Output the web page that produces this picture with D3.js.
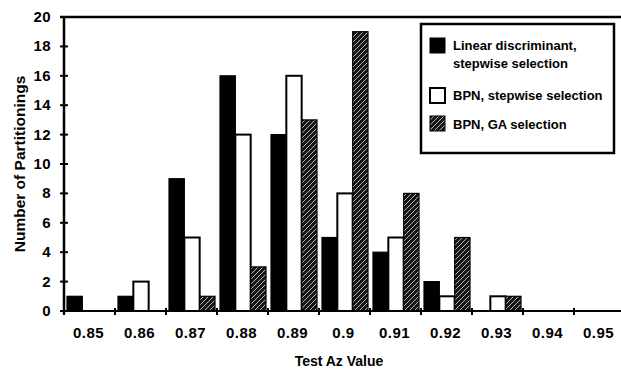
<!DOCTYPE html>
<html>
<head>
<meta charset="utf-8">
<script src="https://cdn.jsdelivr.net/npm/d3@7"></script>
<style>
  html, body { margin: 0; padding: 0; background: #fff; }
  svg { display: block; font-family: "Liberation Sans", Arial, sans-serif; font-weight: bold; }
</style>
</head>
<body>
<svg id="chart" width="621" height="372"></svg>
<script>
// Bin labels (Test Az value)
const categories = ["0.85", "0.86", "0.87", "0.88", "0.89", "0.9", "0.91", "0.92", "0.93", "0.94", "0.95"];
// Number of partitionings per bin for each method
const linearStepwise = [1, 1, 9, 16, 12, 5, 4, 2, 0, 0, 0];
const bpnStepwise    = [0, 2, 5, 12, 16, 8, 5, 1, 1, 0, 0];
const bpnGA          = [0, 0, 1, 3, 13, 19, 8, 5, 1, 0, 0];
const seriesNames = ["Linear discriminant, stepwise selection", "BPN, stepwise selection", "BPN, GA selection"];
const yTicks = [0, 2, 4, 6, 8, 10, 12, 14, 16, 18, 20];

const series = [
  { key: seriesNames[0], values: linearStepwise, style: "solid" },
  { key: seriesNames[1], values: bpnStepwise, style: "open" },
  { key: seriesNames[2], values: bpnGA, style: "hatch" }
];

const svg = d3.select("#chart");

// Hatch fill: dark ground with light diagonal strokes
const defs = svg.append("defs");
const pat = defs.append("pattern")
  .attr("id", "hatch")
  .attr("patternUnits", "userSpaceOnUse")
  .attr("width", 5).attr("height", 5);
pat.append("rect").attr("width", 5).attr("height", 5).attr("fill", "#161616");
pat.append("path")
  .attr("d", "M-1,1 l2,-2 M0,5 l5,-5 M4,6 l2,-2")
  .attr("stroke", "#c8c8c8").attr("stroke-width", 0.9);

const plotLeft = 64, plotRight = 625, plotTop = 17, plotBottom = 311;

const x = d3.scaleBand().domain(categories).range([plotLeft, plotRight]).paddingInner(0).paddingOuter(0);
const xSub = d3.scaleBand().domain(seriesNames).range([3, x.bandwidth() - 2]);
const y = d3.scaleLinear().domain([0, 20]).range([plotBottom, plotTop]);

function fillFor(s) { return s.style === "solid" ? "#000" : s.style === "open" ? "#fff" : "url(#hatch)"; }

// Bars
const groups = svg.append("g").selectAll("g")
  .data(series).join("g");

groups.selectAll("rect")
  .data(s => s.values.map((v, i) => ({ s, v, c: categories[i] })).filter(d => d.v > 0))
  .join("rect")
  .attr("x", d => x(d.c) + xSub(d.s.key))
  .attr("width", xSub.bandwidth())
  .attr("y", d => y(d.v))
  .attr("height", d => y(0) - y(d.v))
  .attr("fill", d => fillFor(d.s))
  .attr("stroke", "#000")
  .attr("stroke-width", d => d.s.style === "open" ? 2 : 1.2);

// Frame lines: y axis, top rule, baseline
const axes = svg.append("g").attr("stroke", "#000").attr("fill", "none");
axes.append("line").attr("x1", plotLeft).attr("x2", plotLeft).attr("y1", plotTop).attr("y2", plotBottom + 3).attr("stroke-width", 2.5);
axes.append("line").attr("x1", plotLeft - 4).attr("x2", 621).attr("y1", plotTop).attr("y2", plotTop).attr("stroke-width", 2.5);
axes.append("line").attr("x1", plotLeft).attr("x2", 621).attr("y1", plotBottom).attr("y2", plotBottom).attr("stroke-width", 2);

// Y ticks crossing the axis
axes.selectAll(".yt").data(yTicks.filter(t => t !== 20)).join("line")
  .attr("x1", plotLeft - 4).attr("x2", plotLeft + 4)
  .attr("y1", d => y(d)).attr("y2", d => y(d))
  .attr("stroke-width", 2);

// X ticks on bin boundaries
axes.selectAll(".xt").data(categories).join("line")
  .attr("x1", d => x(d)).attr("x2", d => x(d))
  .attr("y1", plotBottom - 3).attr("y2", plotBottom + 4)
  .attr("stroke-width", 2);

// Tick labels
svg.append("g").selectAll("text").data(yTicks).join("text")
  .attr("x", 51).attr("y", d => y(d) + 5)
  .attr("text-anchor", "end")
  .attr("font-size", 15)
  .attr("letter-spacing", 0.4)
  .text(d => d);

svg.append("g").selectAll("text").data(categories).join("text")
  .attr("x", d => x(d) + x.bandwidth() / 2 - 1).attr("y", 338)
  .attr("text-anchor", "middle")
  .attr("font-size", 15)
  .attr("letter-spacing", 0.5)
  .text(d => d);

// Axis titles
svg.append("text")
  .attr("x", 339).attr("y", 366)
  .attr("text-anchor", "middle")
  .attr("font-size", 14)
  .text("Test Az Value");

svg.append("text")
  .attr("transform", "translate(25,164) rotate(-90)")
  .attr("text-anchor", "middle")
  .attr("font-size", 15.5)
  .text("Number of Partitionings");

// Legend
const lg = svg.append("g");
lg.append("rect").attr("x", 421).attr("y", 24).attr("width", 193).attr("height", 129)
  .attr("fill", "#fff").attr("stroke", "#000").attr("stroke-width", 2.5);

const legendItems = [
  { s: series[0], sy: 38, lines: ["Linear discriminant,", "stepwise selection"], ty: 50 },
  { s: series[1], sy: 88, lines: ["BPN, stepwise selection"], ty: 100 },
  { s: series[2], sy: 116, lines: ["BPN, GA selection"], ty: 129 }
];
legendItems.forEach(it => {
  lg.append("rect").attr("x", 430).attr("y", it.sy).attr("width", 15).attr("height", 15)
    .attr("fill", fillFor(it.s)).attr("stroke", "#000").attr("stroke-width", it.s.style === "open" ? 2 : 1);
  it.lines.forEach((t, k) => {
    lg.append("text").attr("x", 453).attr("y", it.ty + k * 18)
      .attr("font-size", 13).text(t);
  });
});
</script>
</body>
</html>
